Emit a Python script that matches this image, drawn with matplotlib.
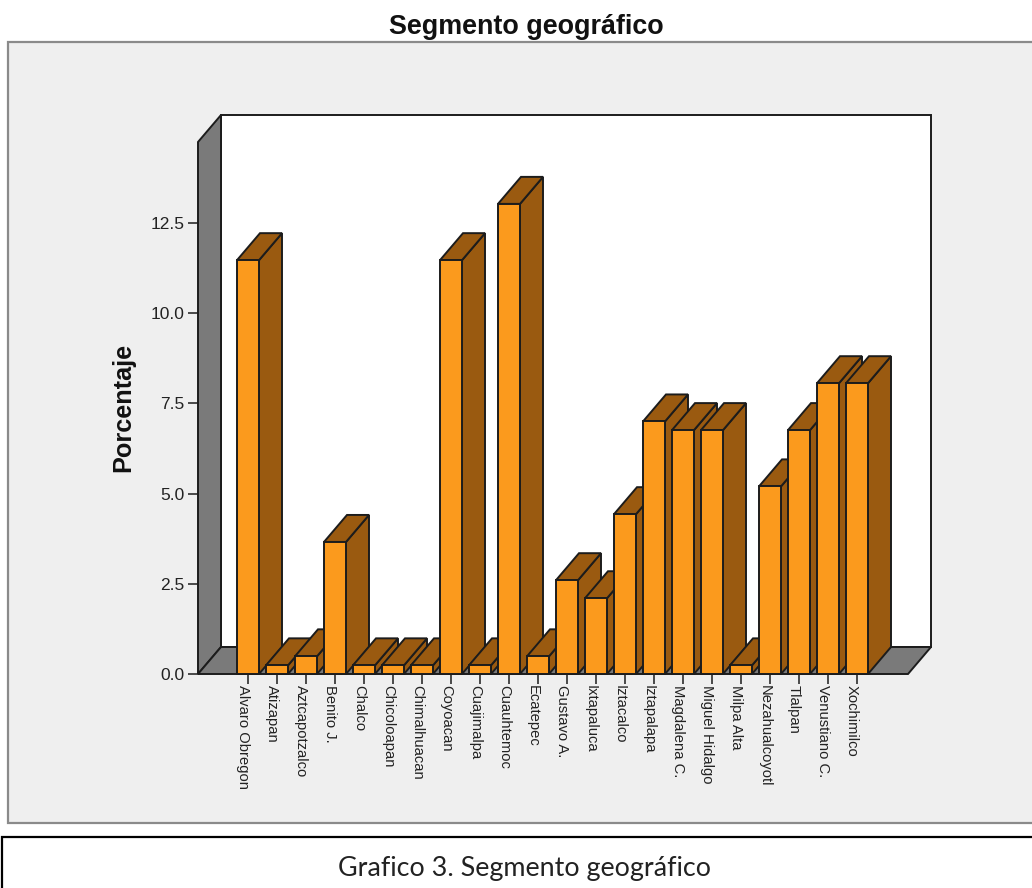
# coding: utf-8

import matplotlib
matplotlib.use('Agg')
import matplotlib.pyplot as plt
from matplotlib.patches import Polygon, Rectangle
from matplotlib.transforms import ScaledTranslation

plt.rcParams['font.family'] = ['Liberation Sans', 'DejaVu Sans']

######################
# Data
municipios = ['Alvaro Obregon', 'Atizapan', 'Aztcapotzalco', 'Benito J.',
              'Chalco', 'Chicoloapan', 'Chimalhuacan', 'Coyoacan',
              'Cuajimalpa', 'Cuauhtemoc', 'Ecatepec', 'Gustavo A.',
              'Ixtapaluca', 'Iztacalco', 'Iztapalapa', 'Magdalena C.',
              'Miguel Hidalgo', 'Milpa Alta', 'Nezahualcoyotl', 'Tlalpan',
              'Venustiano C.', 'Xochimilco']
porcentaje = [11.47, 0.24, 0.49, 3.66, 0.24, 0.24, 0.24, 11.47, 0.24, 13.03,
              0.49, 2.6, 2.1, 4.43, 7.0, 6.76, 6.76, 0.24, 5.2, 6.76, 8.06,
              8.06]
yticks = [0.0, 2.5, 5.0, 7.5, 10.0, 12.5]

######################
# Setup parameters
W, H = 1032, 888
px_x, px_y = 29.0, 36.08      # pixels per category / per percent
dx, dy = 23 / px_x, 27 / px_y  # depth of the 3D effect
bar_w = 22 / px_x
front = '#FB9A1D'
side = '#9A5A10'
grey = '#7A7A7A'
line = '#1c1c1c'
lw = 1.4

fig = plt.figure(figsize=(W / 100, H / 100), dpi=100, facecolor='white')

# Outer chart frame and the caption box, behind the axes
fig.add_artist(Rectangle((8 / W, 1 - 823 / H), 1.1, 781 / H,
                         transform=fig.transFigure, fc='#EFEFEF',
                         ec='#8a8a8a', lw=1.6, zorder=-2))
fig.add_artist(Rectangle((2 / W, -0.1), 1.1, 0.1 + 51 / H,
                         transform=fig.transFigure, fc='white',
                         ec='black', lw=1.6, zorder=-2))

ax = fig.add_axes([198 / W, 1 - 674 / H, 733 / W, 560 / H])
ax.patch.set_alpha(0)
for s in ax.spines.values():
    s.set_visible(False)
x0 = -50 / px_x
x1 = 660 / px_x
ax.set_xlim(x0, 683 / px_x)
ax.set_ylim(0, 560 / px_y)
wall_top = 532 / px_y

# Back panel, left wall and floor
ax.add_patch(Polygon([(x0 + dx, dy), (x1 + dx, dy), (x1 + dx, wall_top + dy),
                      (x0 + dx, wall_top + dy)], fc='white', ec=line, lw=lw,
                     clip_on=False))
ax.add_patch(Polygon([(x0, 0), (x0 + dx, dy), (x0 + dx, wall_top + dy),
                      (x0, wall_top)], fc=grey, ec=line, lw=lw, clip_on=False))
ax.add_patch(Polygon([(x0, 0), (x1, 0), (x1 + dx, dy), (x0 + dx, dy)],
                     fc=grey, ec=line, lw=lw, clip_on=False))

# Bars, left to right so that each one covers the side of the previous one
for i, v in enumerate(porcentaje):
    l, r = i - bar_w / 2, i + bar_w / 2
    ax.add_patch(Polygon([(r, 0), (r + dx, dy), (r + dx, v + dy), (r, v)],
                         fc=side, ec=line, lw=lw, zorder=3 + i * 0.01,
                         clip_on=False))
    ax.add_patch(Polygon([(l, v), (r, v), (r + dx, v + dy), (l + dx, v + dy)],
                         fc=side, ec=line, lw=lw, zorder=3 + i * 0.01,
                         clip_on=False))
    ax.bar(i, v, width=bar_w, color=front, edgecolor=line, linewidth=lw,
           zorder=3 + i * 0.01 + 0.005, clip_on=False)

ax.set_yticks(yticks)
ax.set_yticklabels(['%.1f' % t for t in yticks], fontsize=12.5, color='#222222')
ax.set_xticks(range(len(municipios)))
ax.set_xticklabels(municipios, rotation=-90, fontsize=10.6, color='#222222')
ax.tick_params(axis='both', length=7.2, width=1.1, color=line, pad=1)
ax.tick_params(axis='y', pad=2.5)

# Category labels sit a little left of their ticks
shift = ScaledTranslation(-5 / 100, 0, fig.dpi_scale_trans)
for lab in ax.get_xticklabels():
    lab.set_transform(lab.get_transform() + shift)

fig.text(526 / W, 1 - 27 / H, 'Segmento geográfico', fontsize=19.4,
         fontweight='bold', ha='center', va='center', color='#111111')
fig.text(123 / W, 1 - 407 / H, 'Porcentaje', fontsize=18.2, fontweight='bold',
         rotation=90, ha='center', va='center', color='#111111')
fig.text(524 / W, 1 - 868 / H, 'Grafico 3. Segmento geográfico', fontsize=19.4,
         family='Lato', ha='center', va='center', color='#222222')

fig.savefig('out.png', dpi=100)
